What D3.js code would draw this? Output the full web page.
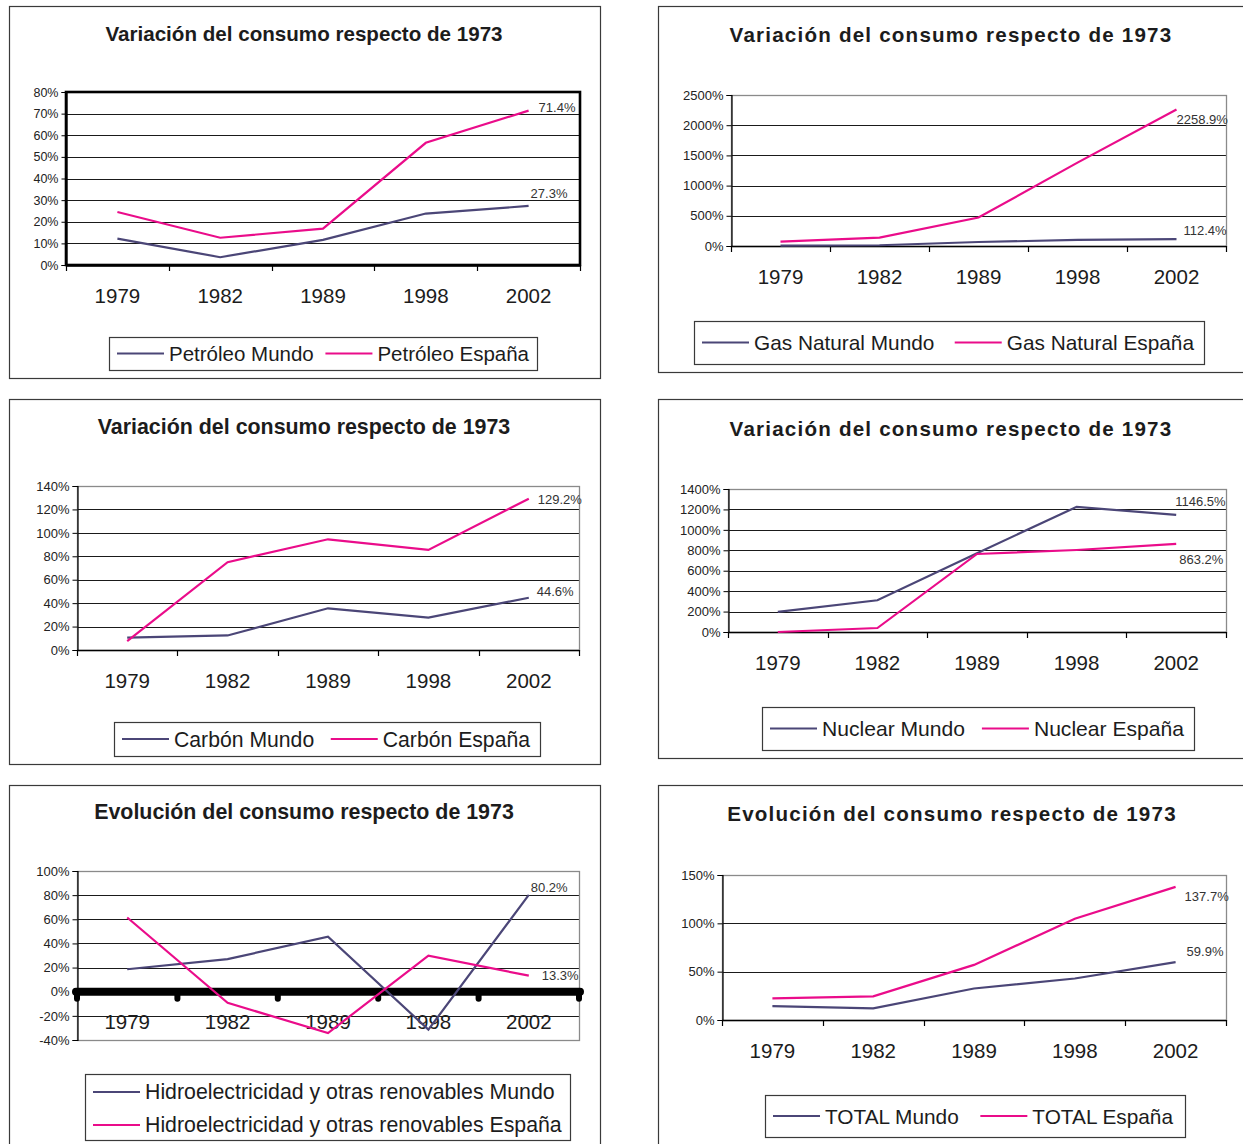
<!DOCTYPE html>
<html><head><meta charset="utf-8">
<script src="https://cdn.jsdelivr.net/npm/d3@7"></script>
<style>
body{margin:0;background:#fff}
svg{display:block}
text{font-family:"Liberation Sans",Arial,Helvetica,sans-serif}
</style>
</head><body>
<svg id="c" width="1243" height="1144"></svg>
<script>
// ---------- DATA ----------
const years = ["1979", "1982", "1989", "1998", "2002"];

const petroleoMundo  = [12.2, 3.6, 11.6, 23.8, 27.3];
const petroleoEspana = [24.5, 12.6, 16.8, 56.5, 71.4];
const petroleoTicks  = [0, 10, 20, 30, 40, 50, 60, 70, 80];

const gasMundo  = [5, 12, 66, 100, 112.4];
const gasEspana = [72, 139, 471, 1380, 2258.9];
const gasTicks  = [0, 500, 1000, 1500, 2000, 2500];

const carbonMundo  = [10.5, 12.4, 35.6, 27.7, 44.6];
const carbonEspana = [7.6, 75, 94.5, 85.4, 129.2];
const carbonTicks  = [0, 20, 40, 60, 80, 100, 120, 140];

const nuclearMundo  = [197, 311, 772, 1225, 1146.5];
const nuclearEspana = [0, 39, 764, 803, 863.2];
const nuclearTicks  = [0, 200, 400, 600, 800, 1000, 1200, 1400];

const hidroMundo  = [18.6, 27, 45.6, -31.4, 80.2];
const hidroEspana = [61.5, -9.2, -34.2, 29.8, 13.3];
const hidroTicks  = [-40, -20, 0, 20, 40, 60, 80, 100];

const totalMundo  = [14.4, 12, 32.6, 42.9, 59.9];
const totalEspana = [22.3, 24.4, 57, 104.7, 137.7];
const totalTicks  = [0, 50, 100, 150];

const titleVar = "Variación del consumo respecto de 1973";
const titleEvo = "Evolución del consumo respecto de 1973";

// ---------- STYLE ----------
const MUNDO = "#4b4677";
const ESP = "#ea0c8a";

const panels = [
  {title:titleVar, titleFs:20.6, ls:0, titleX:304, titleY:33, frame:[9,6,600,378],
   plot:{l:66,r:580,t:92,b:265}, ticks:petroleoTicks, tickFs:12.5, border:"thick",
   series:[{name:"Petróleo Mundo", vals:petroleoMundo, color:MUNDO, lab:[2,-12]},
           {name:"Petróleo España", vals:petroleoEspana, color:ESP, lab:[10,-3]}],
   legend:{x:109, y:337, h:33, w:428, pad:8, fs:20.5, rows:false}},
  {title:titleVar, titleFs:20.6, ls:1.2, titleX:951, titleY:34, frame:[658,6,1260,372],
   plot:{l:731,r:1226,t:95,b:246}, ticks:gasTicks, tickFs:13, border:"gray",
   series:[{name:"Gas Natural Mundo", vals:gasMundo, color:MUNDO, lab:[7,-9]},
           {name:"Gas Natural España", vals:gasEspana, color:ESP, lab:[0,10]}],
   legend:{x:694, y:321, h:43, w:510, pad:10, fs:20.8, rows:false}},
  {title:titleVar, titleFs:21.4, ls:0, titleX:304, titleY:427, frame:[9,399,600,764],
   plot:{l:77,r:579,t:486,b:650}, ticks:carbonTicks, tickFs:13, border:"gray",
   series:[{name:"Carbón Mundo", vals:carbonMundo, color:MUNDO, lab:[8,-6]},
           {name:"Carbón España", vals:carbonEspana, color:ESP, lab:[9,1]}],
   legend:{x:114, y:722, h:34, w:426, pad:10, fs:21.2, rows:false}},
  {title:titleVar, titleFs:20.6, ls:1.2, titleX:951, titleY:428, frame:[658,399,1260,758],
   plot:{l:728,r:1226,t:489,b:632}, ticks:nuclearTicks, tickFs:13, border:"gray",
   series:[{name:"Nuclear Mundo", vals:nuclearMundo, color:MUNDO, lab:[-1,-13]},
           {name:"Nuclear España", vals:nuclearEspana, color:ESP, lab:[3,16]}],
   legend:{x:762, y:707, h:43, w:432, pad:10, fs:21.1, rows:false}},
  {title:titleEvo, titleFs:21.4, ls:0, titleX:304, titleY:812, frame:[9,785,600,1160],
   plot:{l:77,r:579,t:871,b:1040}, ticks:hidroTicks, tickFs:13, border:"gray", thickAxis:true,
   series:[{name:"Hidroelectricidad y otras renovables Mundo", vals:hidroMundo, color:MUNDO, lab:[2,-7]},
           {name:"Hidroelectricidad y otras renovables España", vals:hidroEspana, color:ESP, lab:[13,0]}],
   legend:{x:85, y:1074, h:66, w:485, pad:10, fs:21.3, rows:true}},
  {title:titleEvo, titleFs:20.6, ls:1.2, titleX:952, titleY:813, frame:[658,785,1260,1160],
   plot:{l:722,r:1226,t:875,b:1020}, ticks:totalTicks, tickFs:13, border:"gray",
   series:[{name:"TOTAL Mundo", vals:totalMundo, color:MUNDO, lab:[11,-11]},
           {name:"TOTAL España", vals:totalEspana, color:ESP, lab:[9,10]}],
   legend:{x:765, y:1095, h:42, w:420, pad:12, fs:20.8, rows:false}}
];

const svg = d3.select("#c");
const fmt = d3.format(".1f");

panels.forEach(p => {
  const g = svg.append("g");
  const P = p.plot;
  const dom = d3.extent(p.ticks);

  // outer frame
  g.append("rect")
    .attr("x", p.frame[0] + 0.5).attr("y", p.frame[1] + 0.5)
    .attr("width", p.frame[2] - p.frame[0]).attr("height", p.frame[3] - p.frame[1])
    .attr("fill", "none").attr("stroke", "#3a3a3a").attr("stroke-width", 1.2);

  // title
  g.append("text")
    .attr("x", p.titleX).attr("y", p.titleY)
    .attr("text-anchor", "middle").attr("dominant-baseline", "central")
    .style("font-weight", "bold").style("font-size", p.titleFs + "px")
    .style("letter-spacing", p.ls + "px")
    .attr("fill", "#1c1c1c").text(p.title);

  const x = d3.scaleBand().domain(years).range([P.l, P.r]).padding(0);
  const y = d3.scaleLinear().domain(dom).range([P.b, P.t]);
  const cx = d => x(d) + x.bandwidth() / 2;

  // gridlines
  g.append("g").selectAll("line")
    .data(p.ticks.filter(t => t > dom[0] && t < dom[1]))
    .join("line")
    .attr("x1", P.l).attr("x2", P.r)
    .attr("y1", d => Math.round(y(d)) + 0.5).attr("y2", d => Math.round(y(d)) + 0.5)
    .attr("stroke", "#1a1a1a").attr("stroke-width", 1);

  // plot border
  if (p.border === "thick") {
    g.append("rect").attr("x", P.l).attr("y", P.t)
      .attr("width", P.r - P.l).attr("height", P.b - P.t)
      .attr("fill", "none").attr("stroke", "#000").attr("stroke-width", 2.6);
  } else {
    g.append("rect").attr("x", P.l + 0.5).attr("y", P.t + 0.5)
      .attr("width", P.r - P.l).attr("height", P.b - P.t)
      .attr("fill", "none").attr("stroke", "#8a8a8a").attr("stroke-width", 1.3);
  }

  // y axis
  const ya = d3.axisLeft(y).tickValues(p.ticks).tickFormat(d => d + "%").tickSize(5).tickPadding(3);
  const yg = g.append("g").attr("transform", `translate(${P.l + 0.5},0)`).call(ya);
  yg.select(".domain").attr("stroke", "#000").attr("stroke-width", 1.2);
  yg.selectAll(".tick line").attr("stroke", "#000");
  yg.selectAll(".tick text").style("font-size", p.tickFs + "px").attr("fill", "#222")
    .style("font-family", '"Liberation Sans",Arial,sans-serif');

  // x axis (at zero)
  const zy = y(Math.max(0, dom[0]));
  const bounds = years.map(d => x(d)).concat([P.r]);
  if (p.thickAxis) {
    g.append("line").attr("x1", P.l - 1).attr("x2", P.r + 1).attr("y1", zy).attr("y2", zy)
      .attr("stroke", "#000").attr("stroke-width", 8).attr("stroke-linecap", "round");
    g.append("g").selectAll("line").data(bounds).join("line")
      .attr("x1", d => d).attr("x2", d => d).attr("y1", zy).attr("y2", zy + 7)
      .attr("stroke", "#000").attr("stroke-width", 6).attr("stroke-linecap", "round");
  } else {
    g.append("line").attr("x1", P.l).attr("x2", P.r).attr("y1", Math.round(zy) + 0.5).attr("y2", Math.round(zy) + 0.5)
      .attr("stroke", "#000").attr("stroke-width", p.border === "thick" ? 2.6 : 1.3);
    g.append("g").selectAll("line").data(bounds).join("line")
      .attr("x1", d => Math.round(d) + 0.5).attr("x2", d => Math.round(d) + 0.5)
      .attr("y1", zy).attr("y2", zy + 6)
      .attr("stroke", "#000").attr("stroke-width", 1.2);
  }

  // category labels
  g.append("g").selectAll("text").data(years).join("text")
    .attr("x", d => cx(d)).attr("y", zy + 30)
    .attr("text-anchor", "middle").attr("dominant-baseline", "central")
    .style("font-size", "20.5px").attr("fill", "#1c1c1c").text(d => d);

  // series lines
  const line = d3.line().x((v, i) => cx(years[i])).y(v => y(v));
  p.series.forEach(s => {
    g.append("path").datum(s.vals).attr("d", line)
      .attr("fill", "none").attr("stroke", s.color).attr("stroke-width", 2.2)
      .attr("stroke-linejoin", "miter");
  });

  // end value labels
  p.series.forEach(s => {
    const last = s.vals[s.vals.length - 1];
    g.append("text")
      .attr("x", cx(years[years.length - 1]) + s.lab[0])
      .attr("y", y(last) + s.lab[1])
      .attr("dominant-baseline", "central")
      .style("font-size", "13px").attr("fill", "#333")
      .text(fmt(last) + "%");
  });

  // legend
  const L = p.legend;
  const lg = g.append("g");
  lg.append("rect").attr("x", L.x + 0.5).attr("y", L.y + 0.5).attr("height", L.h).attr("width", L.w)
    .attr("fill", "#fff").attr("stroke", "#3a3a3a").attr("stroke-width", 1.2);
  const items = p.series.map((s, i) => {
    const ty = L.rows ? L.y + 18 + i * 33 : L.y + L.h / 2;
    const ln = lg.append("line").attr("y1", ty).attr("y2", ty)
      .attr("stroke", s.color).attr("stroke-width", 2.2);
    const t = lg.append("text").attr("y", ty)
      .attr("dominant-baseline", "central").style("font-size", L.fs + "px")
      .attr("fill", "#1c1c1c").text(s.name);
    return {ln, t, w: t.node().getComputedTextLength()};
  });
  const lead = 8, lineLen = 47, lgap = 5;
  let gap = 0;
  if (!L.rows) {
    const used = d3.sum(items, it => lineLen + lgap + it.w);
    gap = (L.w - lead - L.pad - used) / Math.max(1, items.length - 1);
  }
  let cur = L.x + lead;
  items.forEach(it => {
    if (L.rows) cur = L.x + lead;
    it.ln.attr("x1", cur).attr("x2", cur + lineLen);
    it.t.attr("x", cur + lineLen + lgap);
    cur += lineLen + lgap + it.w + gap;
  });
});
</script>
</body></html>
